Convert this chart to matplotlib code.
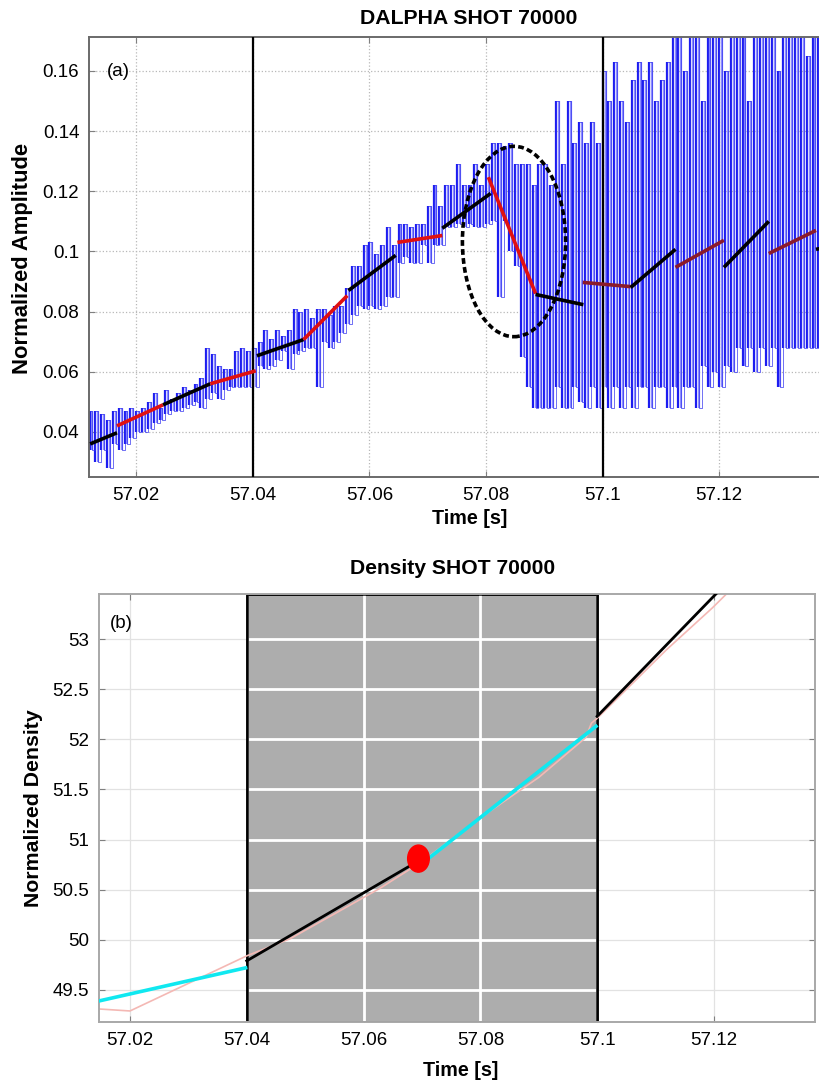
import numpy as np
import matplotlib
matplotlib.use("Agg")
import matplotlib.pyplot as plt
from matplotlib.patches import Ellipse, Rectangle

plt.rcParams['font.family'] = ['Liberation Sans', 'DejaVu Sans']

# ---- panel (a): D-alpha signal, upper / lower level in each 1 ms sample
dalpha_t0 = 57.012
dalpha_dt = 0.001
dalpha_hi = [0.047, 0.047, 0.046, 0.044, 0.047, 0.048, 0.047, 0.048, 0.047, 0.048,
             0.050, 0.053, 0.048, 0.054, 0.051, 0.053, 0.055, 0.054, 0.056, 0.058,
             0.068, 0.066, 0.062, 0.061, 0.061, 0.067, 0.068, 0.067, 0.068, 0.070,
             0.074, 0.071, 0.074, 0.072, 0.074, 0.081, 0.080, 0.081, 0.078, 0.081,
             0.081, 0.079, 0.082, 0.082, 0.088, 0.095, 0.095, 0.102, 0.103, 0.099,
             0.102, 0.108, 0.102, 0.109, 0.109, 0.108, 0.109, 0.109, 0.115, 0.122,
             0.115, 0.122, 0.122, 0.129, 0.122, 0.122, 0.129, 0.122, 0.129, 0.136,
             0.136, 0.135, 0.136, 0.129, 0.129, 0.129, 0.122, 0.129, 0.129, 0.122,
             0.150, 0.129, 0.150, 0.136, 0.143, 0.136, 0.143, 0.136, 0.160, 0.150,
             0.163, 0.150, 0.143, 0.157, 0.163, 0.157, 0.163, 0.150, 0.157, 0.163,
             0.175, 0.175, 0.160, 0.175, 0.175, 0.150, 0.175, 0.175, 0.175, 0.160,
             0.175, 0.175, 0.175, 0.150, 0.175, 0.175, 0.175, 0.175, 0.160, 0.175,
             0.175, 0.175, 0.175, 0.165, 0.175, 0.175]
dalpha_lo = [0.034, 0.030, 0.034, 0.028, 0.036, 0.034, 0.036, 0.038, 0.040, 0.040,
             0.041, 0.043, 0.044, 0.046, 0.047, 0.047, 0.048, 0.049, 0.050, 0.048,
             0.051, 0.053, 0.051, 0.054, 0.055, 0.055, 0.055, 0.055, 0.055, 0.062,
             0.061, 0.062, 0.064, 0.067, 0.061, 0.066, 0.067, 0.068, 0.068, 0.055,
             0.070, 0.068, 0.070, 0.073, 0.076, 0.079, 0.082, 0.081, 0.082, 0.081,
             0.082, 0.085, 0.085, 0.096, 0.098, 0.096, 0.096, 0.102, 0.096, 0.102,
             0.102, 0.108, 0.108, 0.109, 0.108, 0.109, 0.108, 0.108, 0.109, 0.110,
             0.085, 0.110, 0.100, 0.095, 0.065, 0.055, 0.048, 0.048, 0.048, 0.048,
             0.055, 0.048, 0.048, 0.055, 0.050, 0.048, 0.055, 0.048, 0.055, 0.048,
             0.055, 0.048, 0.055, 0.048, 0.055, 0.055, 0.048, 0.055, 0.055, 0.048,
             0.055, 0.048, 0.055, 0.055, 0.048, 0.062, 0.055, 0.060, 0.055, 0.062,
             0.060, 0.068, 0.062, 0.068, 0.060, 0.068, 0.062, 0.068, 0.055, 0.068,
             0.068, 0.068, 0.068, 0.068, 0.068, 0.068]

# piecewise linear fits on the D-alpha signal
fit_t0 = [57.0121, 57.0167, 57.0246, 57.0327, 57.0407, 57.0487, 57.0564, 57.0648, 57.0725,
          57.0804, 57.0885, 57.0966, 57.1048, 57.1125, 57.1208, 57.1285, 57.1366]
fit_t1 = [57.0167, 57.0246, 57.0327, 57.0405, 57.0487, 57.0562, 57.0645, 57.0725, 57.0808,
          57.0885, 57.0967, 57.1048, 57.1125, 57.1208, 57.1285, 57.1366, 57.1450]
fit_y0 = [0.0360, 0.0420, 0.0490, 0.0560, 0.0653, 0.0707, 0.0870, 0.1030, 0.1077,
          0.1247, 0.0857, 0.0897, 0.0880, 0.0947, 0.0947, 0.0993, 0.1007]
fit_y1 = [0.0397, 0.0490, 0.0560, 0.0603, 0.0707, 0.0853, 0.0987, 0.1053, 0.1193,
          0.0860, 0.0823, 0.0883, 0.1007, 0.1037, 0.1100, 0.1070, 0.1040]

event_times = [57.04, 57.1]
circle_center = (57.0848, 0.1033)
circle_size = (0.0177, 0.0633)

# ---- panel (b): density
dens_raw_t = [57.0147, 57.0200, 57.0400, 57.0474, 57.0627, 57.0700, 57.0793, 57.0900,
              57.0981, 57.0990, 57.1000, 57.1118, 57.1197, 57.1230]
dens_raw_y = [49.31, 49.29, 49.84, 50.01, 50.51, 50.78, 51.19, 51.62,
              52.02, 52.16, 52.21, 52.89, 53.31, 53.50]
cyan_t = [[57.0147, 57.0398], [57.0713, 57.0998]]
cyan_y = [[49.39, 49.72], [50.82, 52.13]]
black_t = [[57.0400, 57.0692], [57.1000, 57.1215]]
black_y = [[49.79, 50.78], [52.23, 53.52]]
marker_t = 57.0694
marker_y = 50.81
window = (57.04, 57.1)

fig = plt.figure(figsize=(8.19, 10.85), dpi=100)

# ------------------------------------------------------------------ (a)
ax1 = fig.add_axes([89 / 819, 608 / 1085, 741 / 819, 440 / 1085])
t = dalpha_t0 + dalpha_dt * np.arange(len(dalpha_hi))
# stairs signal: dark rising edges, lighter falling edges
ax1.vlines(t + dalpha_dt / 2, dalpha_lo, dalpha_hi, color='#8c8cff', lw=1.6, zorder=2)
ax1.vlines(t, dalpha_lo, dalpha_hi, color='#1c1cf0', lw=1.6, zorder=2)
tt = np.column_stack([t, t + dalpha_dt / 2]).ravel()
yy = np.column_stack([dalpha_hi, dalpha_lo]).ravel()
ax1.step(tt, yy, where='post', color='#3030f0', lw=0.6, alpha=0.8, zorder=2)

colors = ['black', '#e01010'] * 5 + ['black', '#8b1a2a', 'black', '#8b1a2a', 'black', '#8b1a2a', 'black']
for a, b, c, d, col in zip(fit_t0, fit_t1, fit_y0, fit_y1, colors):
    ax1.plot([a, b], [c, d], color=col, lw=2.6, solid_capstyle='butt', zorder=4)

for x in event_times:
    ax1.axvline(x, color='black', lw=1.6, zorder=3)

ax1.add_patch(Ellipse(circle_center, circle_size[0], circle_size[1], fill=False,
                      ec='black', lw=2.6, ls=(0, (1.6, 0.9)), zorder=5))

ax1.set_xlim(57.0119, 57.139)
ax1.set_ylim(0.025, 0.1713)
ax1.set_xticks([57.02, 57.04, 57.06, 57.08, 57.1, 57.12])
ax1.set_xticklabels(['57.02', '57.04', '57.06', '57.08', '57.1', '57.12'])
ax1.set_yticks([0.04, 0.06, 0.08, 0.1, 0.12, 0.14, 0.16])
ax1.set_yticklabels(['0.04', '0.06', '0.08', '0.1', '0.12', '0.14', '0.16'])
ax1.grid(True, ls=':', color='#b8b8b8', lw=0.9)
ax1.set_axisbelow(True)
ax1.text(0.024, 0.922, '(a)', transform=ax1.transAxes, fontsize=13.5, va='center')

# ------------------------------------------------------------------ (b)
ax2 = fig.add_axes([99 / 819, 63 / 1085, 716 / 819, 428 / 1085])
ax2.set_xlim(57.0147, 57.1373)
ax2.set_ylim(49.18, 53.45)
ax2.set_xticks([57.02, 57.04, 57.06, 57.08, 57.1, 57.12])
ax2.set_xticklabels(['57.02', '57.04', '57.06', '57.08', '57.1', '57.12'])
ax2.set_yticks([49.5, 50, 50.5, 51, 51.5, 52, 52.5, 53])
ax2.set_yticklabels(['49.5', '50', '50.5', '51', '51.5', '52', '52.5', '53'])
ax2.grid(True, color='#e2e2e2', lw=0.9)
ax2.set_axisbelow(True)

y0, y1 = ax2.get_ylim()
rect = Rectangle((window[0], y0), window[1] - window[0], y1 - y0,
                 fc='#adadad', ec='black', lw=1.8, zorder=0.6)
ax2.add_patch(rect)
for x in ax2.get_xticks():
    ln = ax2.axvline(x, color='white', lw=2, zorder=0.7)
    ln.set_clip_path(rect)
for y in ax2.get_yticks():
    ln = ax2.axhline(y, color='white', lw=2, zorder=0.7)
    ln.set_clip_path(rect)
ax2.add_patch(Rectangle((window[0], y0), window[1] - window[0], y1 - y0,
                        fill=False, ec='black', lw=1.8, zorder=1))

ax2.plot(dens_raw_t, dens_raw_y, color='#f4b8b4', lw=1.2, zorder=2)
for tx, ty in zip(cyan_t, cyan_y):
    ax2.plot(tx, ty, color='#10e8f0', lw=2.6, zorder=3)
for tx, ty in zip(black_t, black_y):
    ax2.plot(tx, ty, color='black', lw=2.0, zorder=3)
ax2.add_patch(Ellipse((marker_t, marker_y), 0.0037, 0.27, fc='red', ec='red', zorder=5))
ax2.text(0.0154, 0.932, '(b)', transform=ax2.transAxes, fontsize=13.5, va='center')

# ------------------------------------------------------------------ styling
for ax, sc in ((ax1, '#6a6a6a'), (ax2, '#a8a8a8')):
    for s in ax.spines.values():
        s.set_color(sc)
        s.set_linewidth(1.4)
    ax.tick_params(direction='in', length=4, color='#808080', labelsize=13.5,
                   top=True, right=True, pad=7)

fig.text(469 / 819, 1 - 18 / 1085, 'DALPHA SHOT 70000', ha='center', va='center',
         fontsize=15.3, fontweight='bold')
fig.text(453 / 819, 1 - 568 / 1085, 'Density SHOT 70000', ha='center', va='center',
         fontsize=15.2, fontweight='bold')
fig.text(23 / 819, 1 - 258 / 1085, 'Normalized Amplitude', rotation=90, ha='center',
         va='center', fontsize=15.8, fontweight='bold')
fig.text(34 / 819, 1 - 808 / 1085, 'Normalized Density', rotation=90, ha='center',
         va='center', fontsize=15.3, fontweight='bold')
fig.text(470 / 819, 1 - 519 / 1085, 'Time [s]', ha='center', va='center',
         fontsize=14.2, fontweight='bold')
fig.text(461 / 819, 1 - 1071 / 1085, 'Time [s]', ha='center', va='center',
         fontsize=14.2, fontweight='bold')

fig.savefig('out.png', dpi=100)
